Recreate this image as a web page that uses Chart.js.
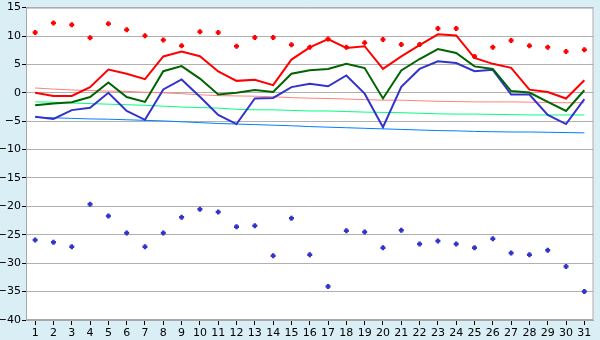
<!DOCTYPE html>
<html>
<head>
<meta charset="utf-8">
<script src="https://cdn.jsdelivr.net/npm/chart.js@4/dist/chart.umd.min.js"></script>
<style>
  html, body { margin: 0; padding: 0; background: #d9eef5; }
  #wrap { width: 600px; height: 340px; }
</style>
</head>
<body>
<div id="wrap"><canvas id="chart" width="600" height="340"></canvas></div>
<script>
// dni miesiąca
const DAYS = ["1","2","3","4","5","6","7","8","9","10","11","12","13","14","15","16","17","18","19","20","21","22","23","24","25","26","27","28","29","30","31"];

// maksimum / średnia / minimum dobowe
const TEMP_MAX = [0.0, -0.55, -0.55, 1.0, 4.1, 3.35, 2.4, 6.4, 7.25, 6.45, 3.75, 2.1, 2.3, 1.35, 5.85, 8.0, 9.45, 7.9, 8.2, 4.2, 6.4, 8.4, 10.3, 10.1, 6.15, 5.1, 4.4, 0.55, 0.15, -1.0, 2.2];
const TEMP_AVG = [-2.2, -1.9, -1.65, -0.75, 1.8, -0.75, -1.6, 3.8, 4.7, 2.5, -0.3, 0.0, 0.5, 0.15, 3.35, 3.95, 4.2, 5.1, 4.35, -1.0, 3.95, 5.95, 7.7, 7.0, 4.65, 4.2, 0.3, 0.05, -1.6, -3.2, 0.45];
const TEMP_MIN = [-4.2, -4.6, -3.05, -2.65, 0.0, -3.2, -4.75, 0.6, 2.35, -0.7, -3.9, -5.5, -1.0, -0.9, 1.0, 1.6, 1.15, 3.05, -0.15, -6.05, 1.05, 4.2, 5.55, 5.25, 3.8, 4.05, -0.3, -0.3, -3.9, -5.5, -1.1];

// rekordy
const RECORD_MAX = [10.6, 12.3, 12.0, 9.7, 12.15, 11.1, 10.05, 9.3, 8.3, 10.75, 10.6, 8.2, 9.75, 9.75, 8.45, 8.0, 9.45, 8.0, 8.8, 9.4, 8.5, 8.5, 11.3, 11.3, 6.4, 8.0, 9.2, 8.3, 8.0, 7.25, 7.6];
const RECORD_MIN = [-25.9, -26.3, -27.1, -19.6, -21.7, -24.7, -27.1, -24.7, -21.9, -20.5, -21.0, -23.6, -23.4, -28.7, -22.1, -28.5, -34.1, -24.3, -24.5, -27.3, -24.2, -26.6, -26.1, -26.6, -27.3, -25.7, -28.2, -28.5, -27.7, -30.6, -35.0];

// normy wieloletnie
const NORM_MAX = [0.85, 0.65, 0.5, 0.4, 0.3, 0.25, 0.1, 0.0, -0.15, -0.35, -0.5, -0.55, -0.6, -0.7, -0.85, -0.95, -1.0, -1.1, -1.2, -1.3, -1.3, -1.4, -1.5, -1.55, -1.6, -1.6, -1.6, -1.65, -1.7, -1.75, -1.75];
const NORM_AVG = [-1.6, -1.65, -1.8, -1.9, -2.0, -2.1, -2.2, -2.35, -2.5, -2.6, -2.7, -2.9, -3.0, -3.0, -3.1, -3.2, -3.2, -3.3, -3.4, -3.45, -3.5, -3.6, -3.7, -3.75, -3.75, -3.8, -3.85, -3.9, -3.9, -3.9, -3.9];
const NORM_MIN = [-4.3, -4.4, -4.5, -4.6, -4.65, -4.75, -4.85, -4.95, -5.1, -5.25, -5.4, -5.5, -5.6, -5.7, -5.8, -5.95, -6.05, -6.15, -6.25, -6.35, -6.45, -6.55, -6.65, -6.7, -6.8, -6.85, -6.9, -6.9, -6.95, -7.0, -7.05];

// oś Y
const Y_MIN = -40;
const Y_MAX = 15;
const Y_STEP = 5;

const FONT = { family: "'DejaVu Sans', Verdana, sans-serif", size: 11 };

// tło: jasnoniebieskie płótno, biały obszar wykresu z ramką
const backgroundPlugin = {
    id: 'bg',
    beforeDraw(chart) {
        const { ctx, chartArea: a } = chart;
        ctx.save();
        ctx.fillStyle = '#d9eef5';
        ctx.fillRect(0, 0, chart.width, chart.height);
        ctx.fillStyle = '#ffffff';
        ctx.fillRect(a.left, a.top, a.right - a.left, a.bottom - a.top);
        ctx.restore();
    },
    beforeDatasetsDraw(chart) {
        const { ctx, chartArea: a } = chart;
        ctx.save();
        ctx.strokeStyle = '#a8a8a8';
        ctx.lineWidth = 1;
        ctx.strokeRect(a.left + 0.5, a.top + 0.5, a.right - a.left - 1, a.bottom - a.top - 1);
        ctx.restore();
    }
};

function lineSet(data, color, width, order) {
    return {
        data: data,
        borderColor: color,
        backgroundColor: color,
        borderWidth: width,
        pointRadius: 0,
        tension: 0,
        fill: false,
        order: order
    };
}

// małe pogrubione krzyżyki dla rekordów
function pointSet(data, color) {
    return {
        data: data,
        showLine: false,
        borderColor: color,
        backgroundColor: color,
        pointStyle: 'cross',
        pointRadius: 2.5,
        pointBorderWidth: 2.5,
        order: 0
    };
}

new Chart(document.getElementById('chart'), {
    type: 'line',
    data: {
        labels: DAYS,
        datasets: [
            lineSet(NORM_MAX, '#ff8080', 1, 5),
            lineSet(NORM_AVG, '#00ff80', 1, 5),
            lineSet(NORM_MIN, '#0080ff', 1, 5),
            lineSet(TEMP_MIN, '#3333cc', 2, 3),
            lineSet(TEMP_AVG, '#006400', 2, 2),
            lineSet(TEMP_MAX, '#ff0000', 2, 1),
            pointSet(RECORD_MAX, '#ff0000'),
            pointSet(RECORD_MIN, '#3333cc')
        ]
    },
    options: {
        responsive: false,
        animation: false,
        layout: { padding: { top: 5, right: 6, left: 0, bottom: 0 } },
        plugins: {
            legend: { display: false },
            tooltip: { enabled: false }
        },
        scales: {
            x: {
                offset: true,
                afterFit: (s) => { s.height = 20; },
                border: { color: '#a8a8a8' },
                grid: { drawOnChartArea: false, drawTicks: true, tickLength: 5, tickColor: '#000000', offset: false },
                ticks: { color: '#000000', font: FONT, padding: 2, maxRotation: 0, autoSkip: false }
            },
            y: {
                min: Y_MIN,
                max: Y_MAX,
                afterFit: (s) => { s.width = 26; },
                border: { color: '#a8a8a8' },
                grid: { color: '#b0b0b0', tickLength: 4, tickColor: '#000000' },
                ticks: {
                    stepSize: Y_STEP,
                    color: '#000000',
                    font: FONT,
                    padding: 1,
                    callback: (v) => String(v).replace('-', '\u2212')
                }
            }
        }
    },
    plugins: [backgroundPlugin]
});
</script>
</body>
</html>
